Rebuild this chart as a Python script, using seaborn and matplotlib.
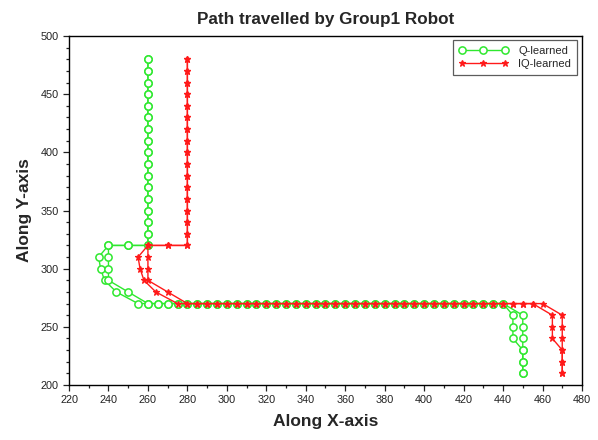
import matplotlib
matplotlib.use("Agg")
import matplotlib.pyplot as plt
from matplotlib.ticker import MultipleLocator
import pandas as pd
import seaborn as sns

# Shared vertical descent from the start cell (y values)
descent_y = [480, 470, 460, 450, 440, 430, 420, 410, 400, 390, 380, 370, 360, 350, 340, 330, 320]

# ---- Q-learned paths (two runs) ----
q_run1_x = ([260] * len(descent_y) + [250, 240, 235, 236, 238, 244, 255]
            + [260, 265, 270, 275, 280, 285, 290, 295, 300, 305, 310, 315, 320, 325, 330, 335, 340,
               345, 350, 355, 360, 365, 370, 375, 380, 385, 390, 395, 400, 405, 410, 415, 420, 425,
               430, 435, 440]
            + [445, 445, 445, 450, 450, 450])
q_run1_y = (descent_y + [320, 320, 310, 300, 290, 280, 270]
            + [270] * 37
            + [260, 250, 240, 230, 220, 210])

q_run2_x = ([260] * len(descent_y) + [250, 240, 240, 240, 240, 250]
            + [260, 265, 270, 275, 280, 285, 290, 295, 300, 305, 310, 315, 320, 325, 330, 335, 340,
               345, 350, 355, 360, 365, 370, 375, 380, 385, 390, 395, 400, 405, 410, 415, 420, 425,
               430, 435, 440]
            + [450, 450, 450, 450, 450, 450])
q_run2_y = (descent_y + [320, 320, 310, 300, 290, 280]
            + [270] * 37
            + [260, 250, 240, 230, 220, 210])

# ---- IQ-learned paths (two runs) ----
iq_run1_x = ([280] * len(descent_y) + [270, 260, 255, 256, 258, 264, 275]
             + [280, 285, 290, 295, 300, 305, 310, 315, 320, 325, 330, 335, 340, 345, 350, 355,
                360, 365, 370, 375, 380, 385, 390, 395, 400, 405, 410, 415, 420, 425, 430, 435,
                440, 445, 450, 455]
             + [465, 465, 465, 470, 470, 470])
iq_run1_y = (descent_y + [320, 320, 310, 300, 290, 280, 270]
             + [270] * 36
             + [260, 250, 240, 230, 220, 210])

iq_run2_x = ([280] * len(descent_y) + [270, 260, 260, 260, 260, 270]
             + [280, 285, 290, 295, 300, 305, 310, 315, 320, 325, 330, 335, 340, 345, 350, 355,
                360, 365, 370, 375, 380, 385, 390, 395, 400, 405, 410, 415, 420, 425, 430, 435,
                440, 445, 450, 455, 460]
             + [470, 470, 470, 470, 470, 470])
iq_run2_y = (descent_y + [320, 320, 310, 300, 290, 280]
             + [270] * 37
             + [260, 250, 240, 230, 220, 210])


def frame(xs, ys, run):
    return pd.DataFrame({"x": xs, "y": ys, "run": run, "step": range(len(xs))})


q_df = pd.concat([frame(q_run1_x, q_run1_y, 1), frame(q_run2_x, q_run2_y, 2)], ignore_index=True)
iq_df = pd.concat([frame(iq_run1_x, iq_run1_y, 1), frame(iq_run2_x, iq_run2_y, 2)], ignore_index=True)

sns.set_theme(style="white")
plt.rcParams["font.family"] = ["Liberation Sans", "DejaVu Sans"]

fig = plt.figure(figsize=(5.98, 4.40), dpi=100)
ax = fig.add_axes([0.1154, 0.125, 0.8578, 0.793])

green = "#2ee82e"
red = "#ff1a1a"

sns.lineplot(data=q_df, x="x", y="y", units="run", estimator=None, sort=False,
             color=green, lw=1.0, marker="o", markersize=5.2,
             markerfacecolor="white", markeredgecolor=green, markeredgewidth=1.1,
             label="Q-learned", ax=ax, legend=False)
sns.lineplot(data=iq_df, x="x", y="y", units="run", estimator=None, sort=False,
             color=red, lw=1.0, marker="*", markersize=5.0,
             markerfacecolor=red, markeredgecolor=red, markeredgewidth=0.9,
             label="IQ-learned", ax=ax, legend=False)

ax.set_xlim(220, 480)
ax.set_ylim(200, 500)
ax.xaxis.set_major_locator(MultipleLocator(20))
ax.xaxis.set_minor_locator(MultipleLocator(10))
ax.yaxis.set_major_locator(MultipleLocator(50))
ax.yaxis.set_minor_locator(MultipleLocator(10))
ax.tick_params(which="both", direction="out", bottom=True, left=True, top=False, right=False,
               colors="#222222", labelsize=7.8, width=0.9)
ax.tick_params(which="major", length=4)
ax.tick_params(which="minor", length=2.5)
for s in ax.spines.values():
    s.set_color("black")
    s.set_linewidth(1.0)

ax.set_title("Path travelled by Group1 Robot", fontsize=12.3, fontweight="bold", pad=9)
ax.set_xlabel("Along X-axis", fontsize=12.5, fontweight="bold", labelpad=6)
ax.set_ylabel("Along Y-axis", fontsize=12.5, fontweight="bold", labelpad=6)

handles, labels = ax.get_legend_handles_labels()
uniq = dict(zip(labels, handles))
leg = ax.legend(list(uniq.values()), list(uniq.keys()), loc="upper right",
                bbox_to_anchor=(0.990, 0.9885), fontsize=8, frameon=True, fancybox=False,
                edgecolor="#333333", handlelength=4.5, borderpad=0.5, labelspacing=0.3,
                numpoints=3, handletextpad=0.9, borderaxespad=0.0)
leg.get_frame().set_linewidth(0.9)

fig.savefig("out.png", dpi=100)
